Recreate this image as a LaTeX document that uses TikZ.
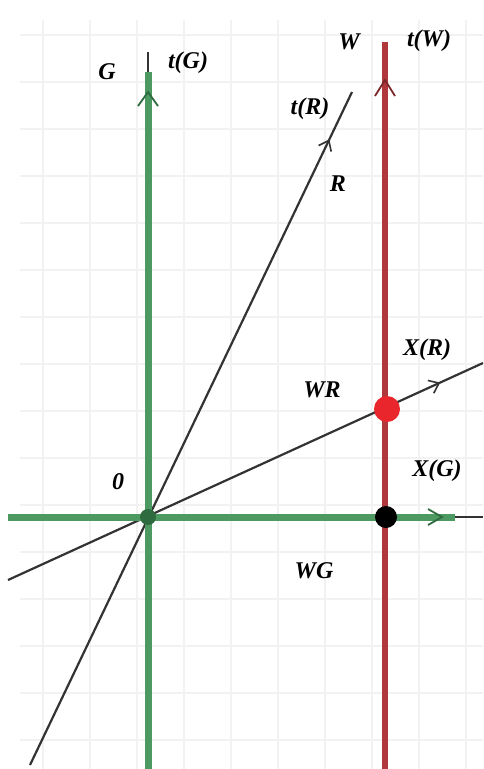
\documentclass[tikz,border=0pt]{standalone}
\usepackage{fontspec}
\setmainfont{Liberation Serif}
\usetikzlibrary{arrows.meta,decorations.markings}
\definecolor{gaxis}{HTML}{4C9A62}
\definecolor{gdark}{HTML}{2E6B3E}
\definecolor{raxis}{HTML}{B0383C}
\definecolor{rdot}{HTML}{E8262B}
\definecolor{gridc}{HTML}{F2F2F2}
\definecolor{ink}{HTML}{333333}
\tikzset{
  lbl/.style={font=\fontsize{24}{28}\selectfont\bfseries\itshape, inner sep=0pt, text=black},
  greenaxis/.style={draw=gaxis, line width=7pt},
  redaxis/.style={draw=raxis, line width=6pt},
  thinline/.style={draw=ink, line width=2.2pt},
  midbarb/.style={postaction={decorate}, decoration={markings, mark=at position #1 with {\arrow[ink, line width=1.6pt]{Straight Barb[length=9pt,width=14pt]}}}}
}
\begin{document}
\begin{tikzpicture}[x=1pt,y=-1pt]
\useasboundingbox (0,0) rectangle (483,769);
\fill[white] (0,0) rectangle (483,769);
% faint grid
\foreach \gx in {43,90,137,184,231,278,325,372,419,466}
  \draw[gridc, line width=1.2pt] (\gx,20) -- (\gx,769);
\foreach \gy in {35,82,129,176,223,270,317,364,411,458,505,552,599,646,693,740}
  \draw[gridc, line width=1.2pt] (20,\gy) -- (483,\gy);

% coordinates
\coordinate (O) at (148,517);
\coordinate (Gbot) at (148,769);
\coordinate (Gtop) at (148,72);
\coordinate (Gtip) at (148,52);
\coordinate (Xl) at (8,517);
\coordinate (Xg) at (455,517);
\coordinate (Xe) at (483,517);
\coordinate (Wbot) at (385,769);
\coordinate (Wtop) at (385,42);
\coordinate (RL) at (30,765);
\coordinate (RT) at (352,92);
\coordinate (XRL) at (8,580);
\coordinate (XRT) at (483,363);

% thin lines
\draw[thinline, midbarb=0.93] (RL) -- (RT);
\draw[thinline, midbarb=0.91] (XRL) -- (XRT);
\draw[thinline] (Xg) -- (Xe);

% green axes
\draw[greenaxis] (Gbot) -- (Gtop);
\draw[ink, line width=2pt] (Gtop) -- (Gtip);
\draw[gdark, line width=1.8pt] (138,106) -- (148,92) -- (158,106);
\draw[greenaxis] (Xl) -- (Xg);
\draw[gdark, line width=1.8pt] (428,509) -- (442,517) -- (428,525);

% red axis
\draw[redaxis] (Wbot) -- (Wtop);
\draw[raxis!70!black, line width=1.8pt] (375,96) -- (385,80) -- (395,96);

% dots
\fill[gdark] (O) circle (8);
\node[circle, fill=rdot, minimum size=26pt, inner sep=0pt] (WR) at (387,409) {};
\node[circle, fill=black, minimum size=22pt, inner sep=0pt] (WG) at (386,517) {};

% labels
\node[lbl] (lG) at (107,72) {G};
\node[lbl] (ltG) at (188,63) {t(G)};
\node[lbl] (lW) at (349,42) {W};
\node[lbl] (ltW) at (429,41) {t(W)};
\node[lbl] (ltR) at (310,109) {t(R)};
\node[lbl] (lR) at (338,184) {R};
\node[lbl] (lXR) at (427,350) {X(R)};
\node[lbl] (lWR) at (322,390) {WR};
\node[lbl] (lXG) at (437,471) {X(G)};
\node[lbl] (l0) at (118,482) {0};
\node[lbl] (lWG) at (314,571) {WG};
\end{tikzpicture}
\end{document}
